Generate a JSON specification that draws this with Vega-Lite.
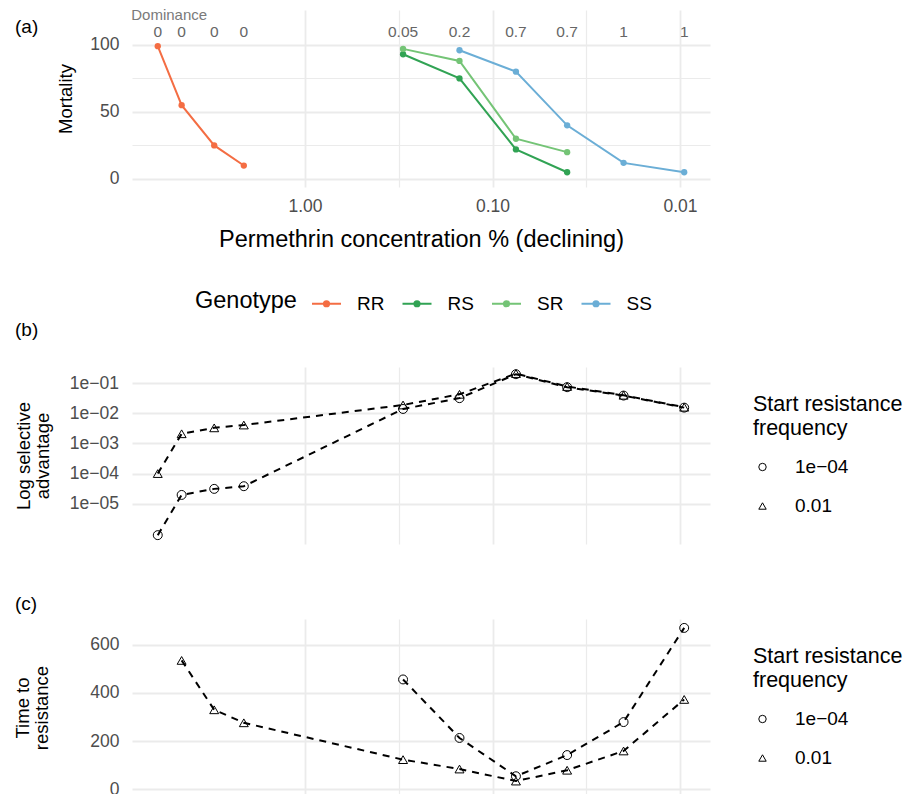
{
  "$schema": "https://vega.github.io/schema/vega-lite/v6.json",
  "padding": {"left": 13, "top": 8, "right": 0, "bottom": 0},
  "background": "white",
  "spacing": 7,
  "config": {
    "font": "Liberation Sans",
    "view": {"stroke": null},
    "axis": {"domain": false, "ticks": false, "gridColor": "#EBEBEB", "labelColor": "#4D4D4D", "labelFontSize": 17.5, "labelFont": "Liberation Sans", "titleFont": "Liberation Sans", "titleFontWeight": "normal", "titleColor": "#000000", "titleFontSize": 18.5, "labelOverlap": false, "labelFlush": false},
    "legend": {"labelFont": "Liberation Sans", "titleFont": "Liberation Sans", "titleFontWeight": "normal", "titleColor": "#000000", "labelColor": "#000000"},
    "title": {"font": "Liberation Sans", "fontWeight": "normal", "fontSize": 19, "color": "#000000", "anchor": "start", "frame": "group"}
  },
  "datasets": {
    "mortality": [
      {"conc": 6.1, "genotype": "RR", "mortality": 99},
      {"conc": 4.55, "genotype": "RR", "mortality": 55},
      {"conc": 3.05, "genotype": "RR", "mortality": 25},
      {"conc": 2.12, "genotype": "RR", "mortality": 10},
      {"conc": 0.3, "genotype": "RS", "mortality": 93},
      {"conc": 0.15, "genotype": "RS", "mortality": 75},
      {"conc": 0.075, "genotype": "RS", "mortality": 22},
      {"conc": 0.04, "genotype": "RS", "mortality": 5},
      {"conc": 0.3, "genotype": "SR", "mortality": 97},
      {"conc": 0.15, "genotype": "SR", "mortality": 88},
      {"conc": 0.075, "genotype": "SR", "mortality": 30},
      {"conc": 0.04, "genotype": "SR", "mortality": 20},
      {"conc": 0.15, "genotype": "SS", "mortality": 96},
      {"conc": 0.075, "genotype": "SS", "mortality": 80},
      {"conc": 0.04, "genotype": "SS", "mortality": 40},
      {"conc": 0.02, "genotype": "SS", "mortality": 12},
      {"conc": 0.0095, "genotype": "SS", "mortality": 5}
    ],
    "dominance": [
      {"conc": 6.1, "dominance": "0"},
      {"conc": 4.55, "dominance": "0"},
      {"conc": 3.05, "dominance": "0"},
      {"conc": 2.12, "dominance": "0"},
      {"conc": 0.3, "dominance": "0.05"},
      {"conc": 0.15, "dominance": "0.2"},
      {"conc": 0.075, "dominance": "0.7"},
      {"conc": 0.04, "dominance": "0.7"},
      {"conc": 0.02, "dominance": "1"},
      {"conc": 0.0095, "dominance": "1"}
    ],
    "advantage": [
      {"conc": 6.1, "freq": "1e−04", "adv": 0.0000009},
      {"conc": 4.55, "freq": "1e−04", "adv": 0.0000195},
      {"conc": 3.05, "freq": "1e−04", "adv": 0.000031},
      {"conc": 2.12, "freq": "1e−04", "adv": 0.000038},
      {"conc": 0.3, "freq": "1e−04", "adv": 0.014},
      {"conc": 0.15, "freq": "1e−04", "adv": 0.032},
      {"conc": 0.075, "freq": "1e−04", "adv": 0.2},
      {"conc": 0.04, "freq": "1e−04", "adv": 0.074},
      {"conc": 0.02, "freq": "1e−04", "adv": 0.039},
      {"conc": 0.0095, "freq": "1e−04", "adv": 0.0155},
      {"conc": 6.1, "freq": "0.01", "adv": 0.0001},
      {"conc": 4.55, "freq": "0.01", "adv": 0.0021},
      {"conc": 3.05, "freq": "0.01", "adv": 0.0033},
      {"conc": 2.12, "freq": "0.01", "adv": 0.0041},
      {"conc": 0.3, "freq": "0.01", "adv": 0.019},
      {"conc": 0.15, "freq": "0.01", "adv": 0.043},
      {"conc": 0.075, "freq": "0.01", "adv": 0.21},
      {"conc": 0.04, "freq": "0.01", "adv": 0.078},
      {"conc": 0.02, "freq": "0.01", "adv": 0.04},
      {"conc": 0.0095, "freq": "0.01", "adv": 0.016}
    ],
    "time": [
      {"conc": 0.3, "freq": "1e−04", "time": 456},
      {"conc": 0.15, "freq": "1e−04", "time": 213},
      {"conc": 0.075, "freq": "1e−04", "time": 54},
      {"conc": 0.04, "freq": "1e−04", "time": 142},
      {"conc": 0.02, "freq": "1e−04", "time": 279},
      {"conc": 0.0095, "freq": "1e−04", "time": 670},
      {"conc": 4.55, "freq": "0.01", "time": 535},
      {"conc": 3.05, "freq": "0.01", "time": 330},
      {"conc": 2.12, "freq": "0.01", "time": 276},
      {"conc": 0.3, "freq": "0.01", "time": 123},
      {"conc": 0.15, "freq": "0.01", "time": 84},
      {"conc": 0.075, "freq": "0.01", "time": 34},
      {"conc": 0.04, "freq": "0.01", "time": 79},
      {"conc": 0.02, "freq": "0.01", "time": 159},
      {"conc": 0.0095, "freq": "0.01", "time": 373}
    ]
  },
  "vconcat": [
    {
      "width": 578,
      "height": 177,
      "title": {"text": "(a)", "orient": "top", "offset": -48, "dx": -117, "baseline": "bottom"},
      "layer": [
        {
          "data": {"name": "mortality"},
          "mark": {"type": "line", "strokeWidth": 2},
          "encoding": {
            "x": {"field": "conc", "type": "quantitative",
              "scale": {"type": "log", "domain": [0.00692, 8.37], "reverse": true, "nice": false},
              "axis": {"values": [1, 0.316228, 0.1, 0.0316228, 0.01], "title": "Permethrin concentration % (declining)", "titleFontSize": 23.5,
                "labelExpr": "abs(log(datum.value)/LN10 - round(log(datum.value)/LN10)) < 0.01 ? format(datum.value, '.2f') : ''",
                "gridWidth": {"condition": {"test": "abs(log(datum.value)/LN10 - round(log(datum.value)/LN10)) < 0.01", "value": 1.8}, "value": 1.2},
                "labelPadding": 10.5, "titlePadding": 12}},
            "y": {"field": "mortality", "type": "quantitative",
              "scale": {"domain": [-6, 126], "nice": false},
              "axis": {"values": [0, 25, 50, 75, 100], "title": "Mortality",
                "labelExpr": "datum.value % 50 == 0 ? datum.label : ''",
                "gridWidth": {"condition": {"test": "datum.value % 50 == 0", "value": 1.8}, "value": 1.2},
                "labelPadding": 13, "titlePadding": 14}},
            "color": {"field": "genotype", "type": "nominal",
              "scale": {"domain": ["RR", "RS", "SR", "SS"], "range": ["#F46D43", "#31A354", "#74C476", "#6BAED6"]},
              "legend": {"title": "Genotype", "orient": "none", "direction": "horizontal", "columns": 4, "legendX": 63, "legendY": 278,
                "titleOrient": "left", "titleFontSize": 23.5, "labelFontSize": 19, "titlePadding": 14,
                "symbolType": "M-1,0L1,0M-0.18,0A0.18,0.18,0,1,1,0.18,0A0.18,0.18,0,1,1,-0.18,0Z",
                "symbolSize": 841, "symbolStrokeWidth": 2, "labelOffset": 15, "columnPadding": 13.5}}
          }
        },
        {
          "data": {"name": "mortality"},
          "mark": {"type": "point", "filled": true, "size": 40, "opacity": 1},
          "encoding": {
            "x": {"field": "conc", "type": "quantitative",
              "scale": {"type": "log", "domain": [0.00692, 8.37], "reverse": true, "nice": false},
              "axis": {"values": [1, 0.316228, 0.1, 0.0316228, 0.01], "title": "Permethrin concentration % (declining)", "titleFontSize": 23.5,
                "labelExpr": "abs(log(datum.value)/LN10 - round(log(datum.value)/LN10)) < 0.01 ? format(datum.value, '.2f') : ''",
                "gridWidth": {"condition": {"test": "abs(log(datum.value)/LN10 - round(log(datum.value)/LN10)) < 0.01", "value": 1.8}, "value": 1.2},
                "labelPadding": 10.5, "titlePadding": 12}},
            "y": {"field": "mortality", "type": "quantitative",
              "scale": {"domain": [-6, 126], "nice": false},
              "axis": {"values": [0, 25, 50, 75, 100], "title": "Mortality",
                "labelExpr": "datum.value % 50 == 0 ? datum.label : ''",
                "gridWidth": {"condition": {"test": "datum.value % 50 == 0", "value": 1.8}, "value": 1.2},
                "labelPadding": 13, "titlePadding": 14}},
            "color": {"field": "genotype", "type": "nominal",
              "scale": {"domain": ["RR", "RS", "SR", "SS"], "range": ["#F46D43", "#31A354", "#74C476", "#6BAED6"]},
              "legend": {"title": "Genotype", "orient": "none", "direction": "horizontal", "columns": 4, "legendX": 63, "legendY": 278,
                "titleOrient": "left", "titleFontSize": 23.5, "labelFontSize": 19, "titlePadding": 14,
                "symbolType": "M-1,0L1,0M-0.18,0A0.18,0.18,0,1,1,0.18,0A0.18,0.18,0,1,1,-0.18,0Z",
                "symbolSize": 841, "symbolStrokeWidth": 2, "labelOffset": 15, "columnPadding": 13.5}}
          }
        },
        {
          "data": {"name": "dominance"},
          "mark": {"type": "text", "fontSize": 15.5, "color": "#666666", "font": "Liberation Sans"},
          "encoding": {
            "x": {"field": "conc", "type": "quantitative"},
            "y": {"datum": 109.5, "type": "quantitative"},
            "text": {"field": "dominance", "type": "nominal"}
          }
        },
        {
          "data": {"values": [{"label": "Dominance"}]},
          "mark": {"type": "text", "fontSize": 15, "color": "#7A7A7A", "font": "Liberation Sans"},
          "encoding": {
            "x": {"datum": 5.3, "type": "quantitative"},
            "y": {"datum": 122, "type": "quantitative"},
            "text": {"field": "label", "type": "nominal"}
          }
        }
      ]
    },
    {
      "width": 578,
      "height": 177,
      "title": {"text": "(b)", "orient": "top", "offset": 8, "dx": -117, "baseline": "bottom"},
      "data": {"name": "advantage"},
      "encoding": {
        "x": {"field": "conc", "type": "quantitative",
          "scale": {"type": "log", "domain": [0.00692, 8.37], "reverse": true, "nice": false},
          "axis": {"values": [1, 0.316228, 0.1, 0.0316228, 0.01], "title": null, "labels": false,
            "ticks": true, "tickColor": "transparent", "tickSize": 43,
            "gridWidth": {"condition": {"test": "abs(log(datum.value)/LN10 - round(log(datum.value)/LN10)) < 0.01", "value": 1.8}, "value": 1.2}}},
        "y": {"field": "adv", "type": "quantitative",
          "scale": {"type": "log", "domain": [0.000000457, 0.347], "nice": false},
          "axis": {"values": [0.1, 0.01, 0.001, 0.0001, 0.00001], "title": ["Log selective", "advantage"],
            "labelExpr": "'1e−0' + format(round(-log(datum.value)/LN10), 'd')",
            "gridWidth": 1.8, "labelPadding": 13.5, "titlePadding": 17, "titleLineHeight": 19}}
      },
      "layer": [
        {
          "mark": {"type": "line", "color": "#000000", "strokeWidth": 2, "strokeDash": [7, 6]},
          "encoding": {"detail": {"field": "freq"}}
        },
        {
          "mark": {"type": "point", "filled": false, "color": "#000000", "strokeWidth": 1, "opacity": 1, "size": 80},
          "encoding": {
            "shape": {"field": "freq", "type": "nominal",
              "scale": {"domain": ["1e−04", "0.01"], "range": ["circle", "triangle-up"]},
              "legend": {"title": ["Start resistance", "frequency"], "orient": "none", "legendX": 621, "legendY": 27,
                "titleFontSize": 21.5, "titleLineHeight": 24, "labelFontSize": 19, "symbolSize": 55,
                "symbolOffset": 0, "labelOffset": 23, "rowPadding": 19, "titlePadding": 18, "symbolStrokeWidth": 1}}
          }
        }
      ]
    },
    {
      "width": 578,
      "height": 177,
      "title": {"text": "(c)", "orient": "top", "offset": -14, "dx": -117, "baseline": "bottom"},
      "data": {"name": "time"},
      "encoding": {
        "x": {"field": "conc", "type": "quantitative",
          "scale": {"type": "log", "domain": [0.00692, 8.37], "reverse": true, "nice": false},
          "axis": {"values": [1, 0.316228, 0.1, 0.0316228, 0.01], "title": null, "labels": false,
            "gridWidth": {"condition": {"test": "abs(log(datum.value)/LN10 - round(log(datum.value)/LN10)) < 0.01", "value": 1.8}, "value": 1.2}}},
        "y": {"field": "time", "type": "quantitative",
          "scale": {"domain": [-28, 707], "nice": false},
          "axis": {"values": [0, 200, 400, 600], "title": ["Time to", "resistance"],
            "gridWidth": 1.8, "labelPadding": 13, "titlePadding": 38, "titleLineHeight": 19}}
      },
      "layer": [
        {
          "mark": {"type": "line", "color": "#000000", "strokeWidth": 2, "strokeDash": [7, 6]},
          "encoding": {"detail": {"field": "freq"}}
        },
        {
          "mark": {"type": "point", "filled": false, "color": "#000000", "strokeWidth": 1, "opacity": 1, "size": 80},
          "encoding": {
            "shape": {"field": "freq", "type": "nominal",
              "scale": {"domain": ["1e−04", "0.01"], "range": ["circle", "triangle-up"]},
              "legend": {"title": ["Start resistance", "frequency"], "orient": "none", "legendX": 621, "legendY": 27,
                "titleFontSize": 21.5, "titleLineHeight": 24, "labelFontSize": 19, "symbolSize": 55,
                "symbolOffset": 0, "labelOffset": 23, "rowPadding": 19, "titlePadding": 18, "symbolStrokeWidth": 1}}
          }
        }
      ]
    }
  ],
  "resolve": {
    "scale": {"x": "independent", "y": "independent", "color": "independent", "shape": "independent"},
    "legend": {"color": "independent", "shape": "independent"}
  }
}
